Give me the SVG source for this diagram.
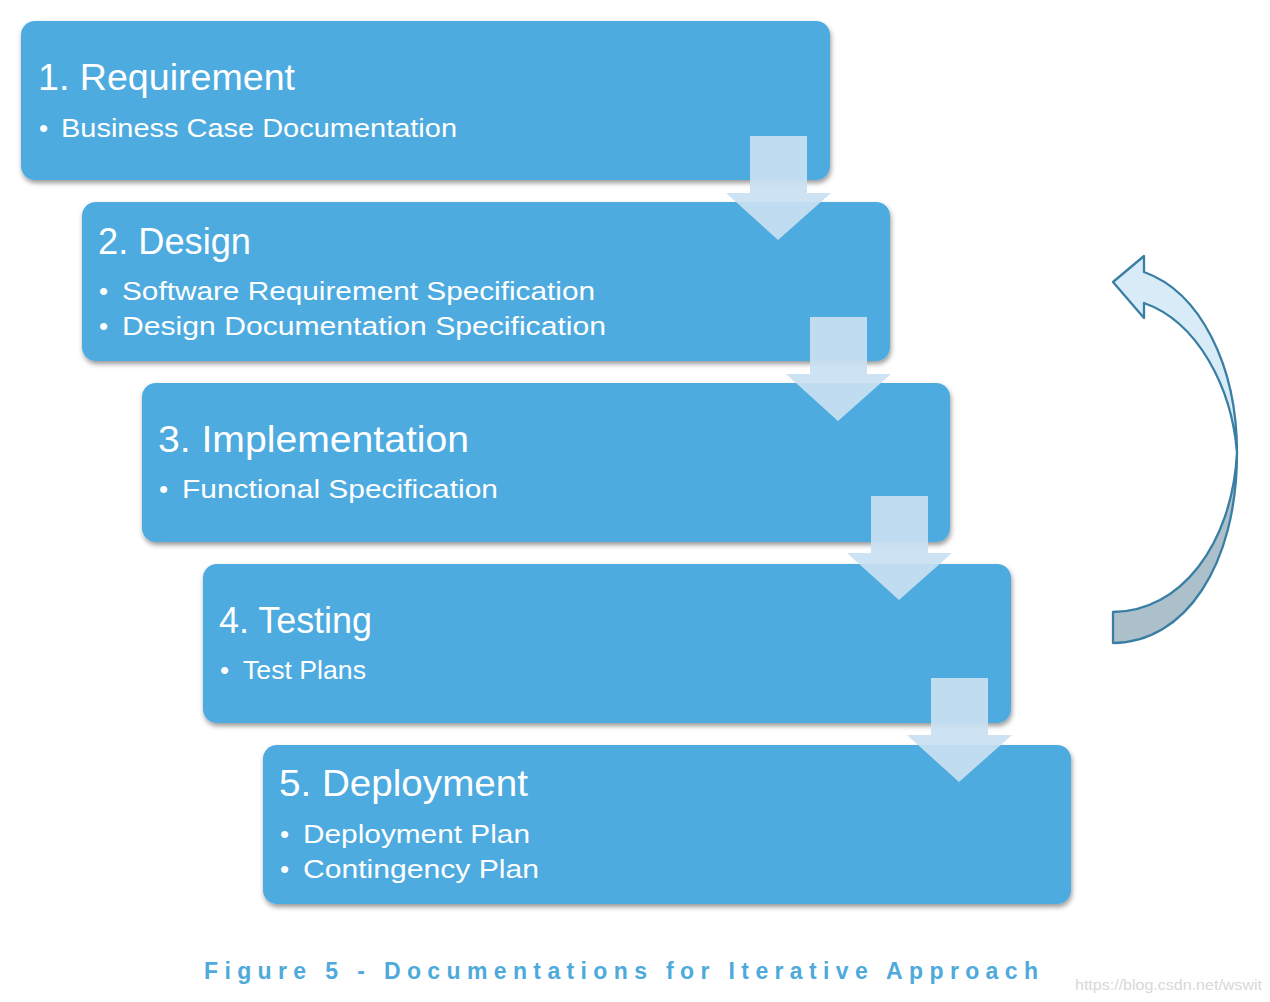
<svg xmlns="http://www.w3.org/2000/svg" width="1270" height="1002" viewBox="0 0 1270 1002">
<defs>
<filter id="sh" x="-5%" y="-10%" width="110%" height="125%">
<feDropShadow dx="1" dy="3" stdDeviation="2.5" flood-color="#000" flood-opacity="0.4"/>
</filter>
<style>
.box{fill:#4eabdf;filter:url(#sh)}
.t{font-family:"Liberation Sans",Arial,sans-serif;fill:#fff}
.h{font-size:36px}
.b{font-size:26px}
.arr{fill:#c9e0f2;fill-opacity:0.93}
.cap{font-family:"Liberation Sans",Arial,sans-serif;font-weight:bold;font-size:23px;fill:#4eaadb}
</style>
</defs>
<rect width="1270" height="1002" fill="#fff"/>
<g id="n1">
<rect class="box" x="21" y="21" width="809" height="159" rx="14"/>
<text class="t h" x="38" y="90" textLength="257" lengthAdjust="spacingAndGlyphs">1. Requirement</text>
<text class="t b" x="39" y="137">•</text>
<text class="t b" x="61" y="137" textLength="396" lengthAdjust="spacingAndGlyphs">Business Case Documentation</text>
</g>
<g id="n2">
<rect class="box" x="82" y="202" width="808" height="159" rx="14"/>
<text class="t h" x="98" y="254" textLength="153" lengthAdjust="spacingAndGlyphs">2. Design</text>
<text class="t b" x="99" y="300">•</text>
<text class="t b" x="122" y="300" textLength="473" lengthAdjust="spacingAndGlyphs">Software Requirement Specification</text>
<text class="t b" x="99" y="335">•</text>
<text class="t b" x="122" y="335" textLength="484" lengthAdjust="spacingAndGlyphs">Design Documentation Specification</text>
</g>
<g id="n3">
<rect class="box" x="142" y="383" width="808" height="159" rx="14"/>
<text class="t h" x="158" y="452" textLength="311" lengthAdjust="spacingAndGlyphs">3. Implementation</text>
<text class="t b" x="159" y="498">•</text>
<text class="t b" x="182" y="498" textLength="316" lengthAdjust="spacingAndGlyphs">Functional Specification</text>
</g>
<g id="n4">
<rect class="box" x="203" y="564" width="808" height="159" rx="14"/>
<text class="t h" x="219" y="633" textLength="153" lengthAdjust="spacingAndGlyphs">4. Testing</text>
<text class="t b" x="220" y="679">•</text>
<text class="t b" x="243" y="679" textLength="123" lengthAdjust="spacingAndGlyphs">Test Plans</text>
</g>
<g id="n5">
<rect class="box" x="263" y="745" width="808" height="159" rx="14"/>
<text class="t h" x="279" y="796" textLength="249" lengthAdjust="spacingAndGlyphs">5. Deployment</text>
<text class="t b" x="280" y="843">•</text>
<text class="t b" x="303" y="843" textLength="227" lengthAdjust="spacingAndGlyphs">Deployment Plan</text>
<text class="t b" x="280" y="878">•</text>
<text class="t b" x="303" y="878" textLength="236" lengthAdjust="spacingAndGlyphs">Contingency Plan</text>
</g>
<g id="connectors">
<path class="arr" d="M750,136 H807 V193 H831 L778,240 L726,193 H750 Z"/>
<path class="arr" d="M810,317 H867 V374 H891 L838,421 L786,374 H810 Z"/>
<path class="arr" d="M871,496 H928 V553 H952 L899,600 L847,553 H871 Z"/>
<path class="arr" d="M931,678 H988 V735 H1012 L959,782 L907,735 H931 Z"/>
<g id="loop" stroke="#3a7ea4" stroke-width="2.3" stroke-linejoin="round">
<path fill="#abc0cb" d="M1237,453 C1237,565 1185,643 1113,643 L1113,612 C1180,612 1232,545 1237,453 Z"/>
<path fill="#d7ecf7" d="M1113,282 L1144,256 L1144,272 C1200,292 1237,365 1237,453 C1232,388 1198,322 1144,303 L1144,318 Z"/>
</g>
</g>
<text class="cap" x="204" y="979" textLength="834" lengthAdjust="spacing">Figure 5 - Documentations for Iterative Approach</text>
<text x="1075" y="990" font-family="Liberation Sans,Arial,sans-serif" font-size="15" fill="#d8d8d8" textLength="187" lengthAdjust="spacingAndGlyphs">https://blog.csdn.net/wswit</text>
</svg>
